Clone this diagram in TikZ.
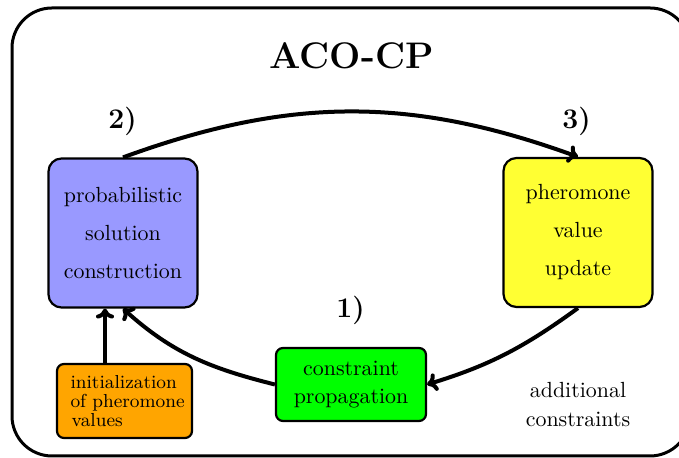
\documentclass[tikz,border=0pt]{standalone}
\usetikzlibrary{arrows.meta}
\definecolor{boxblue}{RGB}{153,153,255}
\definecolor{boxyellow}{RGB}{255,255,51}
\definecolor{boxgreen}{RGB}{0,255,0}
\definecolor{boxorange}{RGB}{255,165,0}
\begin{document}
\begin{tikzpicture}[x=0.5pt,y=0.5pt,
  bigbox/.style={draw, line width=1.1pt, rounded corners=6.5pt, minimum width=74.5pt,
    minimum height=74.5pt, align=center, inner sep=0pt, font=\fontsize{10.95}{19}\selectfont},
  smallbox/.style={draw, line width=1.1pt, rounded corners=3.5pt, inner sep=0pt},
  steplabel/.style={font=\fontsize{14.2}{16}\selectfont\bfseries, inner sep=0pt},
  conn/.style={line width=2pt, -{To[length=5pt,width=9pt]}}
]
\useasboundingbox (0,0) rectangle (679,458);
\draw[line width=1.5pt, rounded corners=20pt] (12,2) rectangle (690,450);

\node[font=\fontsize{18.5}{20}\selectfont\bfseries, inner sep=0pt] (title) at (351.5,402) {ACO-CP};

\node[bigbox, fill=boxblue] (blue) at (123,225) {probabilistic\\solution\\construction};
\node[bigbox, fill=boxyellow] (yellow) at (578,225.5) {pheromone\\value\\update};
\node[smallbox, fill=boxgreen, minimum width=75pt, minimum height=36.5pt, align=center,
  font=\fontsize{10.95}{13.65}\selectfont] (green) at (351,73.5) {constraint\\propagation};
\node[smallbox, fill=boxorange, minimum width=67.5pt, minimum height=37pt, text width=62pt,
  align=left, font=\fontsize{9.4}{9.5}\selectfont] (orange) at (124.5,57)
  {\hspace*{4pt}initialization\\\hspace*{4pt}of pheromone\\\hspace*{4.6pt}values};

\node[steplabel] (s2) at (122.5,337) {2)};
\node[steplabel] (s3) at (576.5,337) {3)};
\node[steplabel] (s1) at (350.5,148) {1)};
\node[align=center, inner sep=0pt, font=\fontsize{10.95}{14.5}\selectfont] (extra) at (578,53) {additional\\constraints};

\draw[conn] (blue.north) to[bend left=20] (yellow.north);
\draw[conn] (yellow.south) to[out=216,in=17] (green.east);
\draw[conn] (green.west) to[out=166,in=-42] (blue.south);
\coordinate (ax) at (105,0);
\draw[conn] (ax |- orange.north) -- (ax |- blue.south);
\end{tikzpicture}
\end{document}
